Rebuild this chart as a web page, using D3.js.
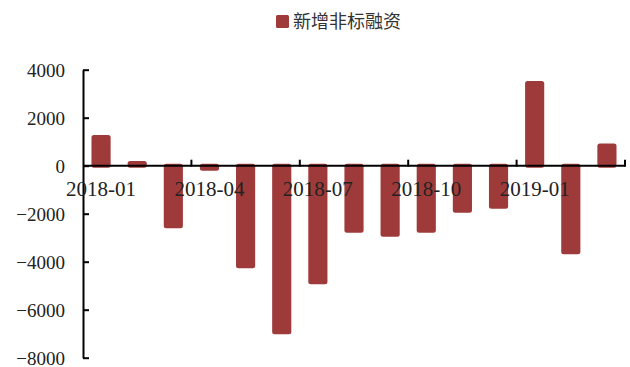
<!DOCTYPE html>
<html>
<head>
<meta charset="utf-8">
<script src="https://cdn.jsdelivr.net/npm/d3@7"></script>
<style>
  body { margin: 0; background: #fff; }
  svg { display: block; }
</style>
</head>
<body>
<script>
// DATA
const months = ["2018-01", "2018-02", "2018-03", "2018-04", "2018-05", "2018-06", "2018-07",
    "2018-08", "2018-09", "2018-10", "2018-11", "2018-12", "2019-01", "2019-02", "2019-03"];
const values = [1280, 200, -2610, -210, -4270, -7020, -4940, -2790, -2960, -2790, -1960, -1790, 3530, -3690, 930];
const yTicks = [4000, 2000, 0, -2000, -4000, -6000, -8000];
const labelMonths = ["2018-01", "2018-04", "2018-07", "2018-10", "2019-01"];
const seriesName = "新增非标融资";

const data = months.map((m, i) => ({ month: m, value: values[i] }));

// SET UP SVG
const width = 630, height = 367;
const barColor = "#9e3a39";

const svg = d3.select("body").append("svg")
    .attr("width", width)
    .attr("height", height);

// SCALES
const xScale = d3.scaleBand()
    .domain(months)
    .range([83, 625])
    .paddingInner(0.47)
    .paddingOuter(0.235);

const yScale = d3.scaleLinear()
    .domain([-8000, 4000])
    .range([357.7, 69.7]);

const y0 = yScale(0);

// BARS (rounded ends, a little overlap past the zero line)
svg.append("g")
    .selectAll("rect")
    .data(data)
    .enter().append("rect")
    .attr("x", d => xScale(d.month))
    .attr("y", d => d.value >= 0 ? yScale(d.value) : y0 - 2)
    .attr("width", xScale.bandwidth())
    .attr("height", d => Math.abs(yScale(d.value) - y0) + 2)
    .attr("rx", 2.5)
    .attr("fill", barColor);

// Y AXIS
const yAxis = d3.axisLeft(yScale)
    .tickValues(yTicks)
    .tickSize(-6)
    .tickSizeOuter(0)
    .tickPadding(18)
    .tickFormat(d3.format("d"));

const yG = svg.append("g")
    .attr("transform", "translate(83,0)")
    .call(yAxis);
yG.select(".domain").attr("stroke", "#000").attr("stroke-width", 2);
yG.selectAll(".tick line").attr("stroke", "#000").attr("stroke-width", 2);
yG.selectAll(".tick text")
    .attr("font-family", "'Liberation Serif', 'Times New Roman', serif")
    .attr("font-size", "19px")
    .attr("fill", "#222")
    .attr("dy", "0.36em");

// X AXIS (zero line)
svg.append("line")
    .attr("x1", 83).attr("x2", 625)
    .attr("y1", y0).attr("y2", y0)
    .attr("stroke", "#000")
    .attr("stroke-width", 2);

// ticks on every 3rd category boundary
const gap = xScale.step() - xScale.bandwidth();
months.forEach((m, i) => {
    if ((i + 1) % 3 === 0) {
        const bx = xScale(m) + xScale.bandwidth() + gap / 2;
        svg.append("line")
            .attr("x1", bx).attr("x2", bx)
            .attr("y1", y0 - 6).attr("y2", y0 + 1)
            .attr("stroke", "#000")
            .attr("stroke-width", 2);
    }
});

// x labels
svg.append("g")
    .selectAll("text")
    .data(labelMonths)
    .enter().append("text")
    .attr("x", d => xScale(d) + xScale.bandwidth() / 2)
    .attr("y", y0 + 30)
    .attr("text-anchor", "middle")
    .attr("font-family", "'Liberation Serif', 'Times New Roman', serif")
    .attr("font-size", "21px")
    .attr("fill", "#222")
    .text(d => d);

// LEGEND
const legend = svg.append("g").attr("transform", "translate(276,15)");
legend.append("rect")
    .attr("width", 13)
    .attr("height", 13)
    .attr("rx", 1.5)
    .attr("fill", barColor);
legend.append("text")
    .attr("x", 17)
    .attr("y", 13)
    .attr("font-family", "'Noto Sans CJK SC', sans-serif")
    .attr("font-size", "18px")
    .attr("fill", "#333")
    .text(seriesName);
</script>
</body>
</html>
